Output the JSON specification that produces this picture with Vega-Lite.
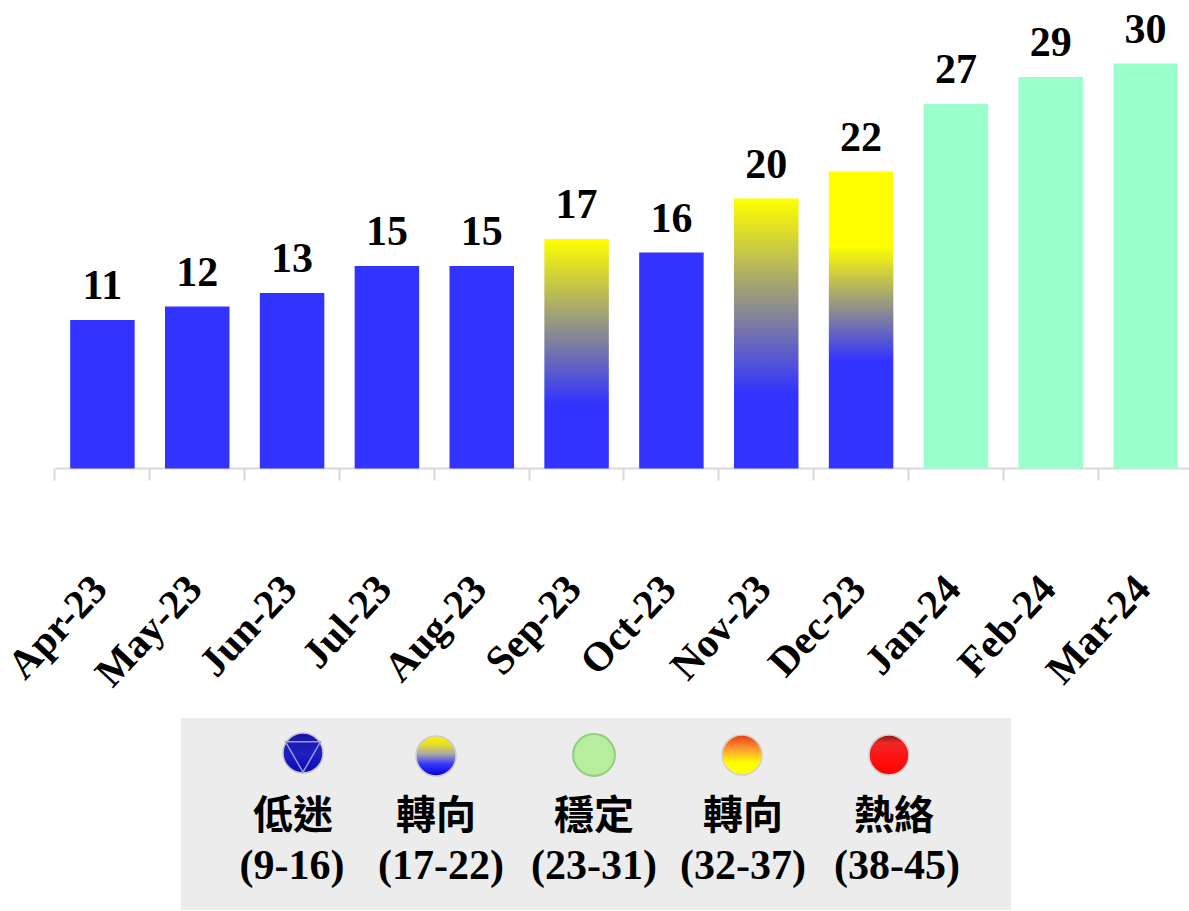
{
"$schema":"https://vega.github.io/schema/vega-lite/v6.json",
"width":1189,"height":911,"padding":0,"autosize":{"type":"none"},"background":"white",
"config":{"view":{"stroke":null}},
"datasets":{
"months":[
{"month":"Apr-23","value":11,"signal":"low"},{"month":"May-23","value":12,"signal":"low"},{"month":"Jun-23","value":13,"signal":"low"},{"month":"Jul-23","value":15,"signal":"low"},{"month":"Aug-23","value":15,"signal":"low"},{"month":"Sep-23","value":17,"signal":"turn"},{"month":"Oct-23","value":16,"signal":"low"},{"month":"Nov-23","value":20,"signal":"turn"},{"month":"Dec-23","value":22,"signal":"turn"},{"month":"Jan-24","value":27,"signal":"stable"},{"month":"Feb-24","value":29,"signal":"stable"},{"month":"Mar-24","value":30,"signal":"stable"}],
"legend":[
{"name":"低迷","range":"(9-16)"},{"name":"轉向","range":"(17-22)"},{"name":"穩定","range":"(23-31)"},{"name":"轉向","range":"(32-37)"},{"name":"熱絡","range":"(38-45)"}],
"panel":[{"panel":"legend"}]
},
"layer":[
{"data":{"name":"months"},
 "encoding":{
  "x":{"field":"month","type":"nominal","sort":null,"title":null,
   "scale":{"type":"band","domain":["Apr-23","May-23","Jun-23","Jul-23","Aug-23","Sep-23","Oct-23","Nov-23","Dec-23","Jan-24","Feb-24","Mar-24"],"range":[55,1193],"paddingInner":0.32,"paddingOuter":0.16},
   "axis":{"offset":-443,"domainColor":"#d9d9d9","domainWidth":2,"tickColor":"#d9d9d9","tickWidth":2,"tickSize":12,"tickBand":"center","tickOffset":-48,"labelAngle":-47,"labelOffset":45.6,"labelFont":"Liberation Serif","labelFontWeight":"bold","labelFontSize":41,"labelColor":"#000000","labelPadding":102,"labelOverlap":false,"labelBound":false,"labelFlush":false,"grid":false}},
  "y":{"field":"value","type":"quantitative","title":null,"axis":null,"scale":{"domain":[0,30],"range":[468.5,63.5],"nice":false}}
 },
 "layer":[
  {"transform":[{"filter":"datum.signal==='low'"}],"mark":{"type":"bar","fill":"#3333ff"}},
  {"transform":[{"filter":"datum.signal==='stable'"}],"mark":{"type":"bar","fill":"#99ffcc"}},
  {"transform":[{"filter":"datum.month==='Sep-23'"}],"mark":{"type":"bar","fill":{"gradient":"linear","x1":0,"y1":0,"x2":0,"y2":1,"stops":[{"offset":0,"color":"#ffff00"},{"offset":0.716,"color":"#3333ff"},{"offset":1,"color":"#3333ff"}]}}},
  {"transform":[{"filter":"datum.month==='Nov-23'"}],"mark":{"type":"bar","fill":{"gradient":"linear","x1":0,"y1":0,"x2":0,"y2":1,"stops":[{"offset":0,"color":"#ffff00"},{"offset":0.72,"color":"#3333ff"},{"offset":1,"color":"#3333ff"}]}}},
  {"transform":[{"filter":"datum.month==='Dec-23'"}],"mark":{"type":"bar","fill":{"gradient":"linear","x1":0,"y1":0,"x2":0,"y2":1,"stops":[{"offset":0,"color":"#ffff00"},{"offset":0.25,"color":"#ffff00"},{"offset":0.636,"color":"#3333ff"},{"offset":1,"color":"#3333ff"}]}}},
  {"mark":{"type":"text","font":"Liberation Serif","fontWeight":"bold","fontSize":42,"color":"#000000","baseline":"alphabetic","dy":-21},"encoding":{"text":{"field":"value","type":"quantitative"}}}
 ]},
{"data":{"name":"panel"},
 "mark":{"type":"rect","fill":"#ececec"},
 "encoding":{
  "x":{"field":"panel","type":"nominal","axis":null,"scale":{"type":"band","range":[181,1011],"padding":0}},
  "y":{"field":"panel","type":"nominal","axis":null,"scale":{"type":"band","range":[718,910],"padding":0}}
 }},
{"data":{"name":"legend"},
 "encoding":{
  "x":{"field":"range","type":"nominal","sort":null,"axis":null,"scale":{"type":"point","domain":["(9-16)","(17-22)","(23-31)","(32-37)","(38-45)"],"range":[297,893],"padding":0}}
 },
 "layer":[
  {"transform":[{"filter":"datum.range==='(9-16)'"}],"layer":[
    {"mark":{"type":"point","shape":"circle","size":1600,"xOffset":6,"yOffset":-2,"opacity":1,"filled":true,"strokeWidth":1.5,"stroke":"#c4c4c4","fill":{"gradient":"linear","x1":0,"y1":0,"x2":0,"y2":1,"stops":[{"offset":0,"color":"#1616a8"},{"offset":0.5,"color":"#2020c0"},{"offset":1,"color":"#0808b8"}]}},"encoding":{"y":{"datum":"icon","type":"nominal","axis":null,"scale":{"type":"point","domain":["icon","name","range"],"range":[755,866],"padding":0}}}},
    {"mark":{"type":"point","shape":"triangle-down","size":1225,"xOffset":6,"yOffset":2,"opacity":1,"filled":false,"strokeWidth":1.5,"stroke":"#9a9ae8"},"encoding":{"y":{"datum":"icon","type":"nominal"}}},
    {"mark":{"type":"text","font":"Noto Sans CJK TC","fontWeight":"bold","fontSize":40,"color":"#000000","xOffset":-4,"yOffset":6.5},"encoding":{"y":{"datum":"name","type":"nominal"},"text":{"field":"name"}}},
    {"mark":{"type":"text","font":"Liberation Serif","fontWeight":"bold","fontSize":42,"color":"#000000","xOffset":-5},"encoding":{"y":{"datum":"range","type":"nominal"},"text":{"field":"range"}}}
  ]},
  {"transform":[{"filter":"datum.range==='(17-22)'"}],"layer":[
    {"mark":{"type":"point","shape":"circle","size":1600,"xOffset":-10,"yOffset":1,"opacity":1,"filled":true,"strokeWidth":1.5,"stroke":"#c8c8d8","fill":{"gradient":"linear","x1":0,"y1":0,"x2":0,"y2":1,"stops":[{"offset":0,"color":"#ffee00"},{"offset":0.2,"color":"#e8e020"},{"offset":0.45,"color":"#a8a8a8"},{"offset":0.7,"color":"#3838ff"},{"offset":1,"color":"#0000d8"}]}},"encoding":{"y":{"datum":"icon","type":"nominal"}}},
    {"mark":{"type":"text","font":"Noto Sans CJK TC","fontWeight":"bold","fontSize":40,"color":"#000000","xOffset":-10,"yOffset":6.5},"encoding":{"y":{"datum":"name","type":"nominal"},"text":{"field":"name"}}},
    {"mark":{"type":"text","font":"Liberation Serif","fontWeight":"bold","fontSize":42,"color":"#000000","xOffset":-5},"encoding":{"y":{"datum":"range","type":"nominal"},"text":{"field":"range"}}}
  ]},
  {"transform":[{"filter":"datum.range==='(23-31)'"}],"layer":[
    {"mark":{"type":"point","shape":"circle","size":1750,"xOffset":-1,"opacity":1,"filled":true,"strokeWidth":2,"stroke":"#94cc84","fill":"#b6ee9e"},"encoding":{"y":{"datum":"icon","type":"nominal"}}},
    {"mark":{"type":"text","font":"Noto Sans CJK TC","fontWeight":"bold","fontSize":40,"color":"#000000","xOffset":-1,"yOffset":6.5},"encoding":{"y":{"datum":"name","type":"nominal"},"text":{"field":"name"}}},
    {"mark":{"type":"text","font":"Liberation Serif","fontWeight":"bold","fontSize":42,"color":"#000000","xOffset":-1},"encoding":{"y":{"datum":"range","type":"nominal"},"text":{"field":"range"}}}
  ]},
  {"transform":[{"filter":"datum.range==='(32-37)'"}],"layer":[
    {"mark":{"type":"point","shape":"circle","size":1600,"xOffset":-2,"opacity":1,"filled":true,"strokeWidth":1.5,"stroke":"#d4d0cc","fill":{"gradient":"linear","x1":0,"y1":0,"x2":0,"y2":1,"stops":[{"offset":0,"color":"#e83c14"},{"offset":0.35,"color":"#ff9a30"},{"offset":0.7,"color":"#ffff00"},{"offset":1,"color":"#ffff00"}]}},"encoding":{"y":{"datum":"icon","type":"nominal"}}},
    {"mark":{"type":"text","font":"Noto Sans CJK TC","fontWeight":"bold","fontSize":40,"color":"#000000","xOffset":-1,"yOffset":6.5},"encoding":{"y":{"datum":"name","type":"nominal"},"text":{"field":"name"}}},
    {"mark":{"type":"text","font":"Liberation Serif","fontWeight":"bold","fontSize":42,"color":"#000000","xOffset":-1},"encoding":{"y":{"datum":"range","type":"nominal"},"text":{"field":"range"}}}
  ]},
  {"transform":[{"filter":"datum.range==='(38-45)'"}],"layer":[
    {"mark":{"type":"point","shape":"circle","size":1600,"xOffset":-4,"opacity":1,"filled":true,"strokeWidth":1.5,"stroke":"#cfcfcf","fill":{"gradient":"linear","x1":0,"y1":0,"x2":0,"y2":1,"stops":[{"offset":0,"color":"#8c1414"},{"offset":0.2,"color":"#f02828"},{"offset":0.6,"color":"#ff1010"},{"offset":1,"color":"#ff0000"}]}},"encoding":{"y":{"datum":"icon","type":"nominal"}}},
    {"mark":{"type":"text","font":"Noto Sans CJK TC","fontWeight":"bold","fontSize":40,"color":"#000000","xOffset":1,"yOffset":6.5},"encoding":{"y":{"datum":"name","type":"nominal"},"text":{"field":"name"}}},
    {"mark":{"type":"text","font":"Liberation Serif","fontWeight":"bold","fontSize":42,"color":"#000000","xOffset":4},"encoding":{"y":{"datum":"range","type":"nominal"},"text":{"field":"range"}}}
  ]}
 ]}
],
"resolve":{"scale":{"x":"independent","y":"independent"},"axis":{"x":"independent","y":"independent"}}
}
